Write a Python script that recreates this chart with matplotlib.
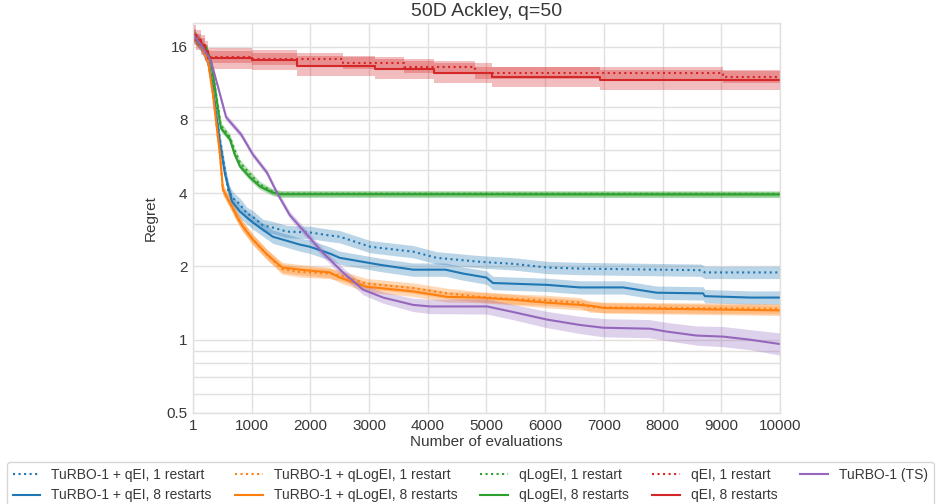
import numpy as np
import matplotlib
matplotlib.use("Agg")
import matplotlib.pyplot as plt
from matplotlib.ticker import NullFormatter

# ---------------- data ----------------
title = "50D Ackley, q=50"
xlabel = "Number of evaluations"
ylabel = "Regret"
xticks = [1, 1000, 2000, 3000, 4000, 5000, 6000, 7000, 8000, 9000, 10000]
yticks = [0.5, 1, 2, 4, 8, 16]
ytick_labels = ["0.5", "1", "2", "4", "8", "16"]

# TuRBO-1 + qEI, 1 restart
turbo_qei_1_x = [1, 135, 255, 340, 460, 545, 600, 690, 800, 920, 1020, 1190, 1360, 1600, 1990,
                 2330, 2500, 3020, 3750, 4150, 4890, 5450, 6030, 6590, 8650, 8720, 10000]
turbo_qei_1_y = [17.9, 16.3, 14.2, 11.0, 6.65, 5.0, 4.1, 3.8, 3.6, 3.3, 3.2, 2.95, 2.89, 2.78, 2.76,
                 2.68, 2.65, 2.41, 2.30, 2.17, 2.09, 2.05, 1.98, 1.96, 1.93, 1.89, 1.89]
turbo_qei_1_err = 0.06

# TuRBO-1 + qEI, 8 restarts
turbo_qei_8_x = [1, 135, 255, 340, 460, 545, 665, 800, 1020, 1360, 1820, 1990, 2330, 2500, 3190,
                 3750, 4300, 4600, 5000, 5110, 6030, 6590, 7330, 7900, 8690, 8720, 9490, 10000]
turbo_qei_8_y = [17.9, 16.3, 14.1, 10.6, 6.4, 4.8, 3.7, 3.36, 3.03, 2.65, 2.46, 2.41, 2.26, 2.17, 2.03,
                 1.94, 1.94, 1.87, 1.80, 1.71, 1.68, 1.64, 1.64, 1.56, 1.55, 1.51, 1.49, 1.49]
turbo_qei_8_err = 0.065

# TuRBO-1 + qLogEI, 1 restart
turbo_qlogei_1_x = [1, 135, 255, 340, 460, 510, 665, 750, 850, 1020, 1260, 1520, 1820, 2330, 2500,
                    2960, 3750, 4330, 4890, 5450, 6030, 6590, 6770, 10000]
turbo_qlogei_1_y = [17.9, 16.3, 14.0, 10.2, 5.77, 4.14, 3.52, 3.2, 2.92, 2.58, 2.24, 1.95, 1.90, 1.87, 1.84,
                    1.70, 1.63, 1.55, 1.50, 1.47, 1.45, 1.42, 1.36, 1.34]
turbo_qlogei_1_err = 0.05

# TuRBO-1 + qLogEI, 8 restarts
turbo_qlogei_8_x = [1, 135, 255, 340, 460, 510, 665, 750, 850, 1020, 1260, 1520, 1820, 2330, 2500,
                    2960, 3750, 4330, 4890, 5450, 6030, 6590, 6770, 7000, 10000]
turbo_qlogei_8_y = [17.9, 16.3, 14.0, 10.2, 5.77, 4.14, 3.52, 3.2, 2.92, 2.58, 2.24, 1.98, 1.94, 1.89, 1.80,
                    1.65, 1.58, 1.50, 1.49, 1.46, 1.42, 1.39, 1.38, 1.35, 1.32]
turbo_qlogei_8_err = 0.05

# qLogEI, 1 restart
qlogei_1_x = [1, 135, 220, 305, 390, 475, 630, 710, 800, 970, 1140, 1360, 1500, 10000]
qlogei_1_y = [17.9, 16.3, 15.9, 14.0, 10.4, 7.6, 6.8, 6.0, 5.35, 4.8, 4.35, 4.05, 3.98, 3.97]
qlogei_1_err = 0.03

# qLogEI, 8 restarts
qlogei_8_x = [1, 135, 220, 305, 390, 475, 630, 710, 800, 970, 1140, 1360, 1500, 10000]
qlogei_8_y = [17.9, 16.3, 15.9, 14.0, 10.2, 7.4, 6.65, 5.77, 5.16, 4.64, 4.26, 4.02, 3.96, 3.95]
qlogei_8_err = 0.03

# qEI, 1 restart (step curve)
qei_1_x = [1, 60, 135, 200, 255, 1000, 2555, 3600, 4800, 9030, 10000]
qei_1_y = [17.9, 17.0, 16.3, 15.3, 14.5, 14.2, 13.7, 13.2, 12.5, 12.03, 12.03]
qei_1_err = 0.06

# qEI, 8 restarts (step curve)
qei_8_x = [1, 60, 135, 200, 255, 1000, 1770, 3100, 4100, 5100, 6930, 10000]
qei_8_y = [17.9, 17.0, 16.3, 15.3, 14.3, 14.1, 13.3, 12.9, 12.5, 12.03, 11.66, 11.66]
qei_8_err = 0.1

# TuRBO-1 (TS)
turbo_ts_x = [1, 135, 305, 460, 565, 715, 820, 1020, 1260, 1430, 1650, 1870, 2210, 2555, 2900,
              3240, 3750, 4040, 5010, 5450, 6030, 6590, 6990, 7780, 8070, 8580, 9030, 9490, 10000]
turbo_ts_y = [17.9, 16.3, 14.0, 10.2, 8.2, 7.45, 6.97, 5.77, 4.86, 4.02, 3.25, 2.83, 2.28, 1.89, 1.605,
              1.49, 1.39, 1.37, 1.37, 1.30, 1.21, 1.15, 1.12, 1.11, 1.08, 1.04, 1.03, 1.00, 0.96]
turbo_ts_err = [0.01, 0.02, 0.02, 0.03, 0.03, 0.03, 0.03, 0.03, 0.03, 0.03, 0.035, 0.04, 0.04, 0.045, 0.05,
                0.055, 0.065, 0.07, 0.075, 0.075, 0.08, 0.085, 0.09, 0.09, 0.09, 0.095, 0.1, 0.1, 0.11]

# ---------------- style ----------------
TEXT = "#383838"
GRID = "#e2dfdc"
plt.rcParams["font.family"] = ["Liberation Sans", "DejaVu Sans"]
plt.rcParams["text.color"] = TEXT
plt.rcParams["axes.labelcolor"] = TEXT
plt.rcParams["xtick.color"] = TEXT
plt.rcParams["ytick.color"] = TEXT

fig = plt.figure(figsize=(9.38, 5.04), dpi=100)
ax = fig.add_axes([193 / 938, 91 / 504, 587 / 938, 390 / 504])

series = [
    ("TuRBO-1 + qEI, 1 restart", turbo_qei_1_x, turbo_qei_1_y, turbo_qei_1_err, "tab:blue", ":", None),
    ("TuRBO-1 + qEI, 8 restarts", turbo_qei_8_x, turbo_qei_8_y, turbo_qei_8_err, "tab:blue", "-", None),
    ("TuRBO-1 + qLogEI, 1 restart", turbo_qlogei_1_x, turbo_qlogei_1_y, turbo_qlogei_1_err, "tab:orange", ":", None),
    ("TuRBO-1 + qLogEI, 8 restarts", turbo_qlogei_8_x, turbo_qlogei_8_y, turbo_qlogei_8_err, "tab:orange", "-", None),
    ("qLogEI, 1 restart", qlogei_1_x, qlogei_1_y, qlogei_1_err, "tab:green", ":", None),
    ("qLogEI, 8 restarts", qlogei_8_x, qlogei_8_y, qlogei_8_err, "tab:green", "-", None),
    ("qEI, 1 restart", qei_1_x, qei_1_y, qei_1_err, "tab:red", ":", "post"),
    ("qEI, 8 restarts", qei_8_x, qei_8_y, qei_8_err, "tab:red", "-", "post"),
    ("TuRBO-1 (TS)", turbo_ts_x, turbo_ts_y, turbo_ts_err, "tab:purple", "-", None),
]

for label, xs, ys, err, color, ls, step in series:
    xs = np.asarray(xs, dtype=float)
    ys = np.asarray(ys, dtype=float)
    e = np.broadcast_to(np.asarray(err, dtype=float), ys.shape)
    lo = ys / (1 + e)
    hi = ys * (1 + e)
    if step:
        ax.fill_between(xs, lo, hi, step=step, color=color, alpha=0.3, linewidth=0)
        ax.plot(xs, ys, drawstyle="steps-" + step, color=color, ls=ls, lw=1.5, label=label)
    else:
        ax.fill_between(xs, lo, hi, color=color, alpha=0.3, linewidth=0)
        ax.plot(xs, ys, color=color, ls=ls, lw=1.5, label=label)

ax.set_yscale("log")
ax.set_ylim(0.5, 20)
ax.set_xlim(1, 10000)
ax.set_yticks(yticks)
ax.set_yticklabels(ytick_labels)
ax.yaxis.set_minor_formatter(NullFormatter())
ax.set_xticks(xticks)
ax.set_xticklabels([str(v) for v in xticks])
ax.tick_params(which="both", length=0, labelsize=11, pad=4)
ax.grid(True, which="both", color=GRID, lw=1.0)
ax.set_axisbelow(True)
for sp in ax.spines.values():
    sp.set_color(GRID)
    sp.set_linewidth(1.0)

ax.set_title(title, fontsize=14, color=TEXT, pad=5)
ax.set_xlabel(xlabel, fontsize=11, labelpad=2)
ax.set_ylabel(ylabel, fontsize=11, labelpad=6)

leg = fig.legend(loc="upper left", bbox_to_anchor=(7 / 938, 1 - 462 / 504),
                 bbox_transform=fig.transFigure, ncol=5, fontsize=10,
                 columnspacing=1.65, frameon=True, borderaxespad=0)
leg.get_frame().set_edgecolor("#cccccc")
leg.get_frame().set_linewidth(1.0)

fig.savefig("out.png", dpi=100)
